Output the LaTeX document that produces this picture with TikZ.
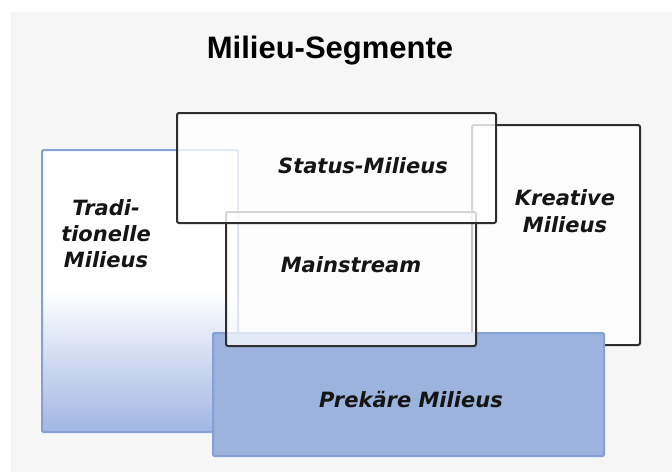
\documentclass[tikz,border=0pt]{standalone}
\usepackage{fontspec}
\setmainfont{DejaVu Sans}
\newfontfamily\titlefont{Liberation Sans}
\definecolor{bggray}{HTML}{F6F6F6}
\definecolor{tradblue}{HTML}{A0B6E2}
\definecolor{tradline}{HTML}{86A1D8}
\definecolor{prekfill}{HTML}{9CB3DE}
\definecolor{prekline}{HTML}{84A0D6}
\definecolor{boxline}{HTML}{2E2E2E}
\definecolor{labeltext}{HTML}{151515}
\pgfdeclareverticalshading{tradshade}{100bp}{color(0bp)=(tradblue); color(25bp)=(tradblue); color(50bp)=(white); color(100bp)=(white)}
\begin{document}
\begin{tikzpicture}[x=0.75pt,y=-0.75pt,
  darkbox/.style={draw=boxline, line width=1.5pt, rounded corners=1.5pt,
    fill=white, fill opacity=0.78, anchor=north west, inner sep=0pt, outer sep=0pt},
  tradbox/.style={draw=tradline, line width=1.5pt, rounded corners=1pt,
    shading=tradshade, anchor=north west, inner sep=0pt, outer sep=0pt},
  prekbox/.style={draw=prekline, line width=1.5pt, rounded corners=1pt,
    fill=prekfill, anchor=north west, inner sep=0pt, outer sep=0pt},
  lbl/.style={font=\fontsize{15.75}{19.5}\selectfont\bfseries\itshape,
    text=labeltext, align=center, inner sep=0pt, anchor=base},
  ttl/.style={font=\titlefont\fontsize{23.25}{28}\selectfont\bfseries,
    text=black, inner sep=0pt, anchor=base}]
\useasboundingbox (0,0) rectangle (672,472);
\fill[white] (0,0) rectangle (672,472);
\fill[bggray] (11,12) rectangle (672,472);

\node[ttl] (title) at (330,58) {Milieu-Segmente};

% boxes, back to front
\node[tradbox, minimum width=147pt, minimum height=211.5pt] (trad) at (42,150) {};
\node[darkbox, minimum width=126pt, minimum height=165pt] (kreat) at (472,125) {};
\node[prekbox, minimum width=293.25pt, minimum height=92.25pt] (prek) at (213,333) {};
\node[darkbox, fill opacity=0.72, minimum width=187.5pt, minimum height=100.5pt] (main) at (226,212) {};
\node[darkbox, fill opacity=0.8, minimum width=239.25pt, minimum height=82.5pt] (status) at (177,113) {};

% labels
\node[lbl] (tradA) at (106,215) {Tradi-};
\node[lbl] (tradB) at (106,241) {tionelle};
\node[lbl] (tradC) at (106,267) {Milieus};
\node[lbl] (statusL) at (363,173) {Status-Milieus};
\node[lbl] (mainL) at (351,272) {Mainstream};
\node[lbl] (kreatA) at (565,205) {Kreative};
\node[lbl] (kreatB) at (565,232) {Milieus};
\node[lbl] (prekL) at (411,407) {Prekäre Milieus};
\end{tikzpicture}
\end{document}
